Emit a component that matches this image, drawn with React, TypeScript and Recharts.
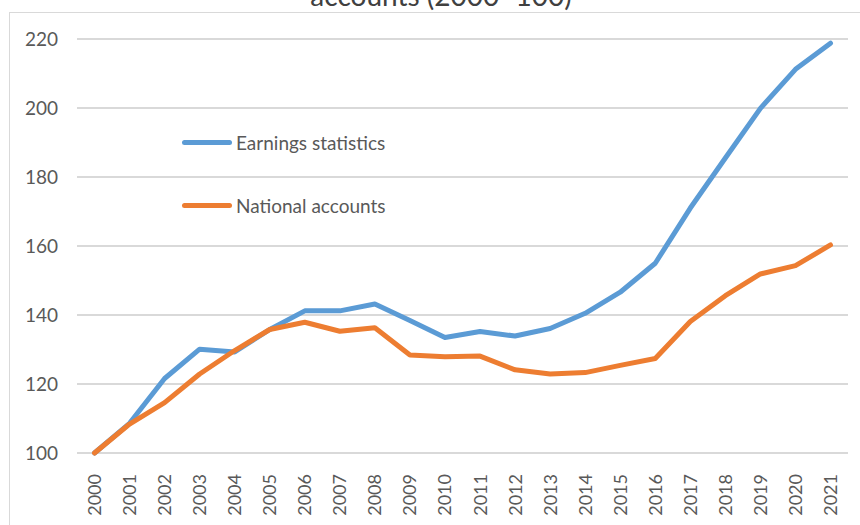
import { LineChart, Line, XAxis, YAxis, CartesianGrid } from 'recharts'

const YEARS = [
  '2000', '2001', '2002', '2003', '2004', '2005', '2006', '2007', '2008', '2009', '2010',
  '2011', '2012', '2013', '2014', '2015', '2016', '2017', '2018', '2019', '2020', '2021',
]

const EARNINGS = [
  100, 108.6, 121.6, 130.1, 129.3, 135.8, 141.2, 141.2, 143.2, 138.4, 133.5,
  135.2, 133.9, 136.1, 140.5, 146.6, 155.0, 171.0, 185.5, 199.9, 211.2, 218.8,
]

const NATIONAL = [
  100, 108.4, 114.6, 122.9, 129.7, 135.8, 137.9, 135.3, 136.3, 128.4, 127.9,
  128.1, 124.1, 122.9, 123.3, 125.4, 127.4, 138.1, 145.6, 151.9, 154.3, 160.3,
]

const Y_TICKS = [100, 120, 140, 160, 180, 200, 220]

const SERIES = [
  { key: 'earnings', name: 'Earnings statistics', color: '#5B9BD5' },
  { key: 'national', name: 'National accounts', color: '#ED7D31' },
]

const FONT = 'Lato, "Open Sans", sans-serif'

const data = YEARS.map((year, i) => ({
  year,
  earnings: EARNINGS[i],
  national: NATIONAL[i],
}))

function YearTick(props: any) {
  const { x, y, payload } = props
  return (
    <g transform={`translate(${x},${y})`}>
      <text
        transform="rotate(-90)"
        x={-13}
        y={0}
        dy="0.36em"
        textAnchor="end"
        fill="#595959"
        fontSize={18}
        fontFamily={FONT}
      >
        {payload.value}
      </text>
    </g>
  )
}

function LegendBox() {
  return (
    <div style={{ position: 'absolute', left: 182, top: 128, fontFamily: FONT }}>
      {SERIES.map((s, i) => (
        <div
          key={s.key}
          style={{ display: 'flex', alignItems: 'center', height: 28, marginBottom: i === 0 ? 35 : 0 }}
        >
          <div style={{ width: 50, height: 5, borderRadius: 3, background: s.color, marginRight: 4 }} />
          <span style={{ fontSize: 19, color: '#595959' }}>{s.name}</span>
        </div>
      ))}
    </div>
  )
}

export default function App() {
  return (
    <div
      style={{
        position: 'fixed',
        left: 0,
        top: 0,
        width: 860,
        height: 525,
        overflow: 'hidden',
        background: '#fff',
      }}
    >
      <div
        style={{
          position: 'absolute',
          left: 9,
          top: 12,
          width: 900,
          height: 600,
          border: '1.5px solid #d9d9d9',
        }}
      />
      <div
        style={{
          position: 'absolute',
          left: 0,
          width: 860,
          top: -20,
          textAlign: 'center',
          fontFamily: FONT,
          fontSize: 28,
          lineHeight: '30px',
          color: '#404040',
          paddingLeft: 22,
          boxSizing: 'border-box',
        }}
      >
        accounts (2000=100)
      </div>
      <LineChart
        width={860}
        height={525}
        data={data}
        margin={{ top: 39, right: 12, bottom: 0, left: 0 }}
        style={{ position: 'absolute', left: 0, top: 0 }}
      >
        <CartesianGrid vertical={false} stroke="#d9d9d9" strokeWidth={2} />
        <XAxis
          dataKey="year"
          axisLine={false}
          tickLine={false}
          interval={0}
          height={72}
          padding={{ left: 17.5, right: 17.5 }}
          tick={<YearTick />}
        />
        <YAxis
          domain={[100, 220]}
          ticks={Y_TICKS}
          width={77}
          axisLine={false}
          tickLine={false}
          tickSize={0}
          tickMargin={19}
          tick={{ fill: '#595959', fontSize: 19, fontFamily: FONT }}
        />
        {SERIES.map((s) => (
          <Line
            key={s.key}
            type="linear"
            dataKey={s.key}
            name={s.name}
            stroke={s.color}
            strokeWidth={5}
            strokeLinecap="round"
            strokeLinejoin="round"
            dot={false}
            activeDot={false}
            isAnimationActive={false}
          />
        ))}
      </LineChart>
      <LegendBox />
    </div>
  )
}
